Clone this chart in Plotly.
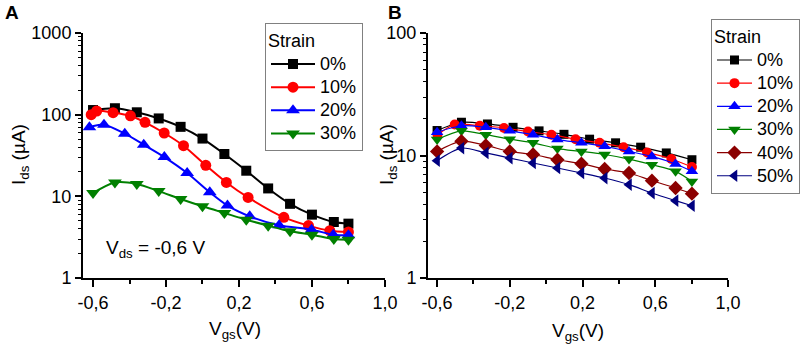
import plotly.graph_objects as go

# ---------------- data ----------------
strain_labels_A = ["0%", "10%", "20%", "30%"]
strain_labels_B = ["0%", "10%", "20%", "30%", "40%", "50%"]

# Panel A (Vds = -0.6 V)
vgs_A_0 = [-0.6, -0.48, -0.36, -0.24, -0.12, 0.0, 0.12, 0.24, 0.36, 0.48, 0.6, 0.72, 0.8]
ids_A_0 = [114, 120, 107, 90, 71, 51, 33, 20.6, 12.5, 8.1, 5.97, 4.85, 4.63]
vgs_A_10 = [-0.61, -0.58, -0.49, -0.395, -0.315, -0.21, -0.104, 0.018, 0.131, 0.25, 0.446, 0.581, 0.698, 0.8]
ids_A_10 = [100, 111, 106, 97, 80.6, 59.7, 41.7, 24, 14.8, 9.7, 5.53, 4.38, 3.8, 3.66]
vgs_A_20 = [-0.62, -0.54, -0.426, -0.322, -0.209, -0.084, 0.04, 0.137, 0.259, 0.42, 0.598, 0.717, 0.8]
ids_A_20 = [70, 75.5, 58.5, 42.9, 30.3, 19.3, 11.2, 7.7, 5.69, 4.42, 3.91, 3.39, 3.33]
vgs_A_30 = [-0.6, -0.48, -0.36, -0.24, -0.12, 0.0, 0.12, 0.24, 0.36, 0.48, 0.6, 0.72, 0.8]
ids_A_30 = [11, 14.8, 14.2, 11.6, 9.27, 7.55, 6.25, 5.18, 4.37, 3.73, 3.39, 3.0, 2.95]

# Panel B
vgs_B_0 = [-0.6, -0.466, -0.323, -0.182, -0.039, 0.098, 0.239, 0.382, 0.52, 0.661, 0.802]
ids_B_0 = [16.0, 18.7, 18.1, 17.0, 15.9, 14.9, 13.6, 12.7, 11.7, 10.5, 9.24]
vgs_B_10 = [-0.598, -0.503, -0.365, -0.232, -0.1, 0.029, 0.162, 0.294, 0.426, 0.555, 0.689, 0.802]
ids_B_10 = [14.8, 17.9, 17.5, 16.8, 15.7, 14.8, 13.6, 12.7, 11.7, 10.6, 9.36, 8.05]
vgs_B_grid = [-0.6, -0.466, -0.332, -0.2, -0.072, 0.062, 0.194, 0.322, 0.456, 0.582, 0.712, 0.802]
ids_B_20 = [15.5, 17.5, 17.0, 15.9, 14.8, 13.5, 12.7, 11.9, 10.8, 9.84, 8.53, 7.43]
ids_B_30 = [13.5, 15.9, 14.8, 13.6, 12.7, 11.4, 10.8, 10.2, 9.36, 8.41, 7.43, 6.15]
ids_B_40 = [10.8, 13.1, 12.1, 10.8, 10.2, 9.24, 8.58, 7.76, 7.2, 6.23, 5.43, 4.88]
ids_B_50 = [9.08, 11.5, 10.5, 9.54, 8.69, 7.91, 7.2, 6.55, 5.78, 4.94, 4.28, 3.89]

x_tickvals = [-0.6, -0.2, 0.2, 0.6, 1.0]
x_ticktext = ["-0,6", "-0,2", "0,2", "0,6", "1,0"]
x_minorvals = [-0.4, 0.0, 0.4, 0.8]
yA_tickvals = [1, 10, 100, 1000]
yA_ticktext = ["1", "10", "100", "1000"]
yB_tickvals = [1, 10, 100]
yB_ticktext = ["1", "10", "100"]

# ---------------- styling ----------------
FONT = "Arial, Liberation Sans, sans-serif"
colors = ["#000000", "#FF0000", "#0000FF", "#008000", "#8B0000", "#000080"]
symbols = ["square", "circle", "triangle-up", "triangle-down", "diamond", "triangle-left"]
sizesA = [10, 11, 12, 12]
sizesB = [9, 10, 11, 11, 11, 11]
TICK = 18

W, H = 803, 349
def px_x(p): return p / W
def px_y(p): return 1 - p / H
def leg_name(s): return '<span style="font-size:18px">' + s + '</span>'

fig = go.Figure()

A_data = [(vgs_A_0, ids_A_0), (vgs_A_10, ids_A_10), (vgs_A_20, ids_A_20), (vgs_A_30, ids_A_30)]
for i, (xs, ys) in enumerate(A_data):
    fig.add_trace(go.Scatter(
        x=xs, y=ys, name=leg_name(strain_labels_A[i]), mode="lines+markers",
        line=dict(color=colors[i], width=2, shape="spline", smoothing=0.8),
        marker=dict(symbol=symbols[i], size=sizesA[i], color=colors[i]),
        xaxis="x", yaxis="y", legend="legend"))

B_data = [(vgs_B_0, ids_B_0), (vgs_B_10, ids_B_10), (vgs_B_grid, ids_B_20),
          (vgs_B_grid, ids_B_30), (vgs_B_grid, ids_B_40), (vgs_B_grid, ids_B_50)]
for i, (xs, ys) in enumerate(B_data):
    fig.add_trace(go.Scatter(
        x=xs, y=ys, name=leg_name(strain_labels_B[i]), mode="lines+markers",
        line=dict(color=colors[i], width=1.2, shape="spline", smoothing=0.8),
        marker=dict(symbol=symbols[i], size=sizesB[i], color=colors[i]),
        xaxis="x2", yaxis="y2", legend="legend2"))

xcommon = dict(
    tickmode="array", tickvals=x_tickvals, ticktext=x_ticktext,
    ticks="outside", ticklen=7, tickwidth=1.5, tickcolor="black",
    minor=dict(tickmode="array", tickvals=x_minorvals, ticks="outside", ticklen=4, tickwidth=1.5, tickcolor="black"),
    showline=True, linecolor="black", linewidth=2, showgrid=False, zeroline=False,
    tickfont=dict(family=FONT, size=TICK, color="black"), automargin=False,
)
ycommon = dict(
    type="log", tickmode="array",
    ticks="outside", ticklen=6, tickwidth=1.5, tickcolor="black",
    showline=True, linecolor="black", linewidth=2, showgrid=False, zeroline=False,
    tickfont=dict(family=FONT, size=TICK, color="black"), automargin=False,
)
minor_log_A = [m * 10 ** e for e in range(0, 3) for m in range(2, 10)]
minor_log_B = [m * 10 ** e for e in range(0, 2) for m in range(2, 10)]

legend_style = dict(xanchor="left", yanchor="top",
                    bgcolor="white", bordercolor="#808080", borderwidth=1,
                    font=dict(family=FONT, size=15.5, color="black"),
                    title=dict(text="Strain", font=dict(family=FONT, size=18, color="black")))

fig.update_layout(
    width=W, height=H, margin=dict(l=0, r=0, t=0, b=0, autoexpand=False),
    paper_bgcolor="white", plot_bgcolor="white",
    font=dict(family=FONT, color="black"),
    xaxis=dict(**xcommon, domain=[px_x(83), px_x(385)], range=[-0.655, 1.0005], anchor="y"),
    yaxis=dict(**ycommon, domain=[px_y(278), px_y(33)], range=[0, 3.0005],
               tickvals=yA_tickvals, ticktext=yA_ticktext, anchor="x",
               minor=dict(tickmode="array", tickvals=minor_log_A, ticks="outside", ticklen=3, tickwidth=1.2, tickcolor="black")),
    xaxis2=dict(**xcommon, domain=[px_x(428), px_x(728)], range=[-0.65, 1.0005], anchor="y2"),
    yaxis2=dict(**ycommon, domain=[px_y(278), px_y(33)], range=[0, 2.0005],
                tickvals=yB_tickvals, ticktext=yB_ticktext, anchor="x2",
                minor=dict(tickmode="array", tickvals=minor_log_B, ticks="outside", ticklen=3, tickwidth=1.2, tickcolor="black")),
    legend=dict(x=px_x(265), y=px_y(23), itemwidth=44, entrywidth=42, entrywidthmode="pixels", **legend_style),
    legend2=dict(x=px_x(711), y=px_y(19), itemwidth=35, **legend_style),
    showlegend=True,
)

ann = [
    dict(text="<b>A</b>", x=px_x(3), y=px_y(12), xanchor="left", yanchor="middle", size=19),
    dict(text="<b>B</b>", x=px_x(386), y=px_y(12), xanchor="left", yanchor="middle", size=19),
    dict(text="I<sub>ds</sub> (µA)", x=px_x(20), y=px_y(155), textangle=-90, xanchor="center", yanchor="middle", size=19),
    dict(text="I<sub>ds</sub> (µA)", x=px_x(388), y=px_y(155), textangle=-90, xanchor="center", yanchor="middle", size=19),
    dict(text="V<sub>gs</sub>(V)", x=px_x(235), y=px_y(330), xanchor="center", yanchor="middle", size=19),
    dict(text="V<sub>gs</sub>(V)", x=px_x(578), y=px_y(332), xanchor="center", yanchor="middle", size=19),
    dict(text="V<sub>ds</sub> = -0,6 V", x=px_x(104), y=px_y(249), xanchor="left", yanchor="middle", size=19),
]
annotations = []
for a in ann:
    size = a.pop("size")
    a.update(xref="paper", yref="paper", showarrow=False,
             font=dict(family=FONT, color="black", size=size))
    annotations.append(a)
fig.update_layout(annotations=annotations)

fig.write_html("out.html", config={"displayModeBar": False},
               post_script="document.body.style.margin='0px';document.body.style.padding='0px';")
